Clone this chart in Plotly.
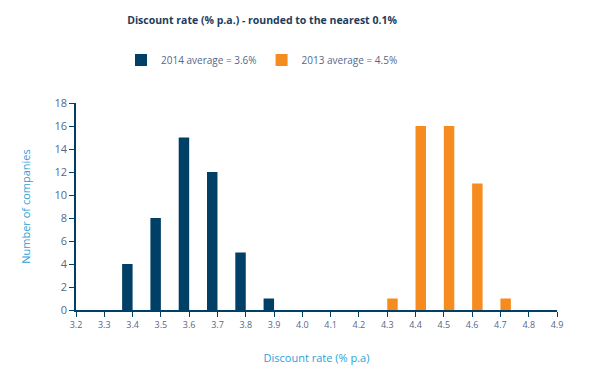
import plotly.graph_objects as go

rates = [3.2, 3.3, 3.4, 3.5, 3.6, 3.7, 3.8, 3.9, 4.0, 4.1, 4.2, 4.3, 4.4, 4.5, 4.6, 4.7, 4.8, 4.9]
counts_2014 = [0, 0, 4, 8, 15, 12, 5, 1, 0, 0, 0, 0, 0, 0, 0, 0, 0, 0]
counts_2013 = [0, 0, 0, 0, 0, 0, 0, 0, 0, 0, 0, 1, 16, 16, 11, 1, 0, 0]
name_2014 = "2014 average = 3.6%"
name_2013 = "2013 average = 4.5%"

NAVY = "#003f66"
ORANGE = "#f68b1f"
TICK = "#56678a"
LBLUE = "#2b9fd8"
FONT = "Open Sans, Noto Sans, sans-serif"

W, H = 590, 375
ML, MR, MT, MB = 76, 33, 103, 65
PH = H - MT - MB
PW = W - ML - MR

fig = go.Figure()
fig.add_trace(go.Bar(x=rates, y=counts_2014, name=name_2014, marker_color=NAVY, marker_line_width=0))
fig.add_trace(go.Bar(x=rates, y=counts_2013, name=name_2013, marker_color=ORANGE, marker_line_width=0))

fig.update_layout(
    width=W, height=H,
    margin=dict(l=ML, r=MR, t=MT, b=MB, autoexpand=False),
    paper_bgcolor="white", plot_bgcolor="white",
    barmode="group", bargap=0.26, bargroupgap=0,
    font=dict(family=FONT, color=TICK, size=10),
    title=dict(text="<b>Discount rate (% p.a.) - rounded to the nearest 0.1%</b>",
               x=262/W, xref="container", xanchor="center",
               y=1 - 20/H, yref="container", yanchor="middle",
               font=dict(size=10.5, color="#1d3c5c", family=FONT)),
    legend=dict(orientation="h", x=(262 - ML)/PW, xref="paper", xanchor="center",
                y=1 + (MT - 60)/PH, yref="paper", yanchor="middle",
                font=dict(size=10, color=TICK, family=FONT),
                traceorder="normal", itemwidth=30),
    showlegend=True,
)
fig.update_xaxes(
    range=[3.2, 4.9], tick0=3.2, dtick=0.1, tickformat=".1f",
    showline=True, linecolor=NAVY, linewidth=1.5,
    ticks="outside", ticklen=5, tickcolor=NAVY, tickwidth=1,
    showgrid=False, zeroline=False,
    tickfont=dict(size=9, color=TICK),
    title=dict(text="Discount rate (% p.a)", font=dict(size=11, color=LBLUE), standoff=25),
)
fig.update_yaxes(
    range=[0, 18], dtick=2,
    showline=True, linecolor=NAVY, linewidth=1.5,
    ticks="outside", ticklen=5, tickcolor=NAVY, tickwidth=1,
    showgrid=False, zeroline=False,
    tickfont=dict(size=11, color=TICK),
    title=dict(text="Number of companies", font=dict(size=11, color=LBLUE), standoff=22),
)

fig.write_html("out.html", post_script="document.body.style.margin='0';",
               config={"displayModeBar": False})
